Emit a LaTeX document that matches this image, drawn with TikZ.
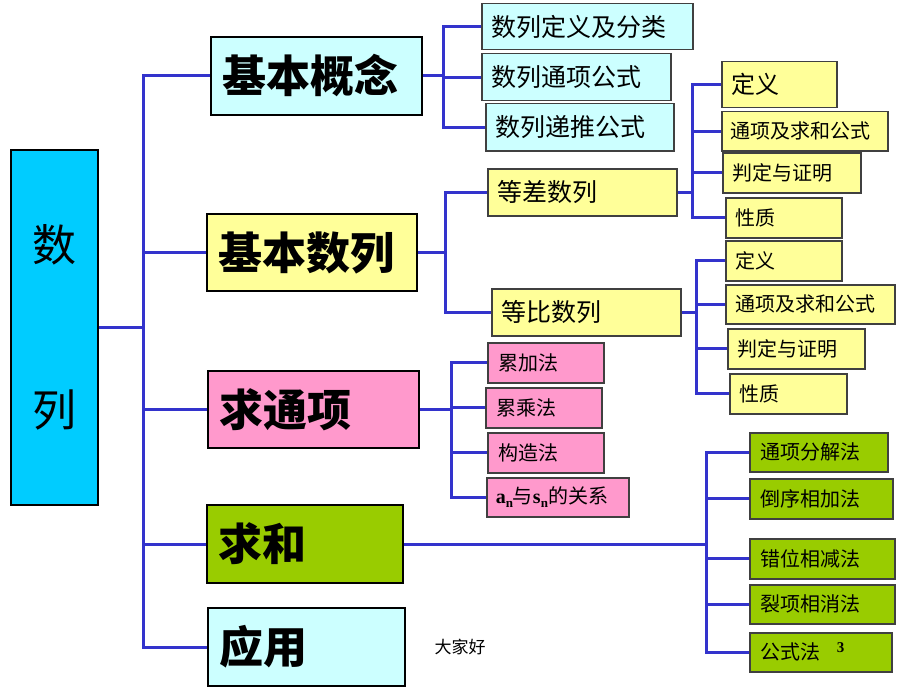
\documentclass[tikz,border=0pt]{standalone}
\usepackage{fontspec}
\setmainfont{Noto Sans CJK SC}
\newfontfamily\tnr{Liberation Serif}
\definecolor{rootc}{HTML}{00CCFF}
\definecolor{lcyan}{HTML}{CCFFFF}
\definecolor{lyel}{HTML}{FFFF99}
\definecolor{lpink}{HTML}{FF99CC}
\definecolor{lgreen}{HTML}{99CC00}
\definecolor{linec}{HTML}{3333CC}
\tikzset{
  mainbox/.style={draw=black, line width=2pt, align=left, inner ysep=0pt,
    font=\fontsize{44}{48}\selectfont\bfseries},
  subbox/.style={draw=black!75, line width=1.5pt, align=left, inner ysep=0pt,
    font=\fontsize{25}{28}\selectfont},
  leafbox/.style={draw=black!75, line width=1.5pt, align=left, inner ysep=0pt,
    font=\fontsize{20}{23}\selectfont},
  conn/.style={draw=linec, line width=3pt, line join=miter}
}
% name, x, y, w, h, style, pad, text
\newcommand\bx[8]{%
  \pgfmathsetmacro\tw{#4-2*#7}%
  \node[#6, inner xsep=#7pt, text width=\tw pt, minimum height=#5pt, anchor=north west] (#1) at (#2,#3) {#8};}
\begin{document}
\begin{tikzpicture}[x=1pt,y=-1pt]
\useasboundingbox (0,0) rectangle (920,690);
% root
\node[draw=black, line width=1.5pt, fill=rootc, minimum width=87pt, minimum height=355pt,
  anchor=north west, align=center, inner sep=0pt, font=\fontsize{44}{165}\selectfont] (root) at (10,149) {数\\列};
% main boxes
\bx{k1}{210}{36}{211}{78}{mainbox,fill=lcyan}{11}{基本概念}
\bx{k2}{206}{213}{210}{77}{mainbox,fill=lyel}{11}{基本数列}
\bx{k3}{207}{370}{211}{77}{mainbox,fill=lpink}{11}{求通项}
\bx{k4}{206}{504}{196}{78}{mainbox,fill=lgreen}{11}{求和}
\bx{k5}{207}{607}{197}{78}{mainbox,fill=lcyan}{11}{应用}
% level 2
\bx{a1}{481}{3}{211}{46}{subbox,fill=lcyan}{10}{数列定义及分类}
\bx{a2}{481}{53}{189}{47}{subbox,fill=lcyan}{10}{数列通项公式}
\bx{a3}{485}{103}{188}{47}{subbox,fill=lcyan}{10}{数列递推公式}
\bx{b1}{487}{168}{189}{47}{subbox,fill=lyel}{10}{等差数列}
\bx{b2}{491}{288}{189}{47}{subbox,fill=lyel}{10}{等比数列}
% 等差 children
\bx{c1}{721}{61}{115}{46}{leafbox,fill=lyel,font=\fontsize{24}{27}\selectfont}{10}{定义}
\bx{c2}{721}{111}{166}{39}{leafbox,fill=lyel}{9}{通项及求和公式}
\bx{c3}{722}{152}{138}{40}{leafbox,fill=lyel}{10}{判定与证明}
\bx{c4}{725}{197}{116}{40}{leafbox,fill=lyel}{10}{性质}
% 等比 children
\bx{e1}{725}{240}{116}{40}{leafbox,fill=lyel}{10}{定义}
\bx{e2}{725}{284}{169}{39}{leafbox,fill=lyel}{10}{通项及求和公式}
\bx{e3}{727}{328}{137}{40}{leafbox,fill=lyel}{10}{判定与证明}
\bx{e4}{729}{373}{117}{40}{leafbox,fill=lyel}{10}{性质}
% 求通项 children
\bx{f1}{487}{342}{116}{40}{leafbox,fill=lpink}{11}{累加法}
\bx{f2}{485}{387}{116}{40}{leafbox,fill=lpink}{11}{累乘法}
\bx{f3}{487}{432}{116}{40}{leafbox,fill=lpink}{11}{构造法}
\bx{f4}{486}{477}{142}{39}{leafbox,fill=lpink}{9}{{\tnr\bfseries a\raisebox{-4pt}{\fontsize{13}{13}\selectfont n}}与{\tnr\bfseries s\raisebox{-4pt}{\fontsize{13}{13}\selectfont n}}的关系}
% 求和 children
\bx{g1}{749}{432}{138}{39}{leafbox,fill=lgreen}{11}{通项分解法}
\bx{g2}{749}{478}{143}{40}{leafbox,fill=lgreen}{11}{倒序相加法}
\bx{g3}{749}{538}{145}{40}{leafbox,fill=lgreen}{11}{错位相减法}
\bx{g4}{749}{584}{145}{39}{leafbox,fill=lgreen}{11}{裂项相消法}
\bx{g5}{749}{632}{142}{39}{leafbox,fill=lgreen}{11}{公式法\hspace{16pt}\raisebox{7pt}{\tnr\bfseries\fontsize{15}{15}\selectfont 3}}
% footer text
\node[font=\fontsize{17}{19}\selectfont] (ftr) at (460,647) {大家好};
% spines
\coordinate (s0) at (143,0);
\coordinate (s1) at (443,0);
\coordinate (s2) at (445,0);
\coordinate (s3) at (692,0);
\coordinate (s4) at (696,0);
\coordinate (s5) at (451,0);
\coordinate (s6) at (706,0);
% main tree
\draw[conn] (root.east) -- (root.east -| s0);
\draw[conn] (k1.west) -- (s0 |- k1.west) -- (s0 |- k5.west) -- (k5.west);
\foreach \k in {k2,k3,k4} \draw[conn] (s0 |- \k.west) -- (\k.west);
% 基本概念
\draw[conn] (k1.east) -- (k1.east -| s1);
\draw[conn] (a1.west) -- (s1 |- a1.west) -- (s1 |- a3.west) -- (a3.west);
\draw[conn] (s1 |- a2.west) -- (a2.west);
% 基本数列
\draw[conn] (k2.east) -- (k2.east -| s2);
\draw[conn] (b1.west) -- (s2 |- b1.west) -- (s2 |- b2.west) -- (b2.west);
% 等差
\draw[conn] (b1.east) -- (b1.east -| s3);
\draw[conn] (c1.west) -- (s3 |- c1.west) -- (s3 |- c4.west) -- (c4.west);
\draw[conn] (s3 |- c2.west) -- (c2.west);
\draw[conn] (s3 |- c3.west) -- (c3.west);
% 等比
\draw[conn] (b2.east) -- (b2.east -| s4);
\draw[conn] (e1.west) -- (s4 |- e1.west) -- (s4 |- e4.west) -- (e4.west);
\draw[conn] (s4 |- e2.west) -- (e2.west);
\draw[conn] (s4 |- e3.west) -- (e3.west);
% 求通项
\draw[conn] (k3.east) -- (k3.east -| s5);
\draw[conn] (f1.west) -- (s5 |- f1.west) -- (s5 |- f4.west) -- (f4.west);
\draw[conn] (s5 |- f2.west) -- (f2.west);
\draw[conn] (s5 |- f3.west) -- (f3.west);
% 求和
\draw[conn] (k4.east) -- (k4.east -| s6);
\draw[conn] (g1.west) -- (s6 |- g1.west) -- (s6 |- g5.west) -- (g5.west);
\foreach \g in {g2,g3,g4} \draw[conn] (s6 |- \g.west) -- (\g.west);
\end{tikzpicture}
\end{document}
